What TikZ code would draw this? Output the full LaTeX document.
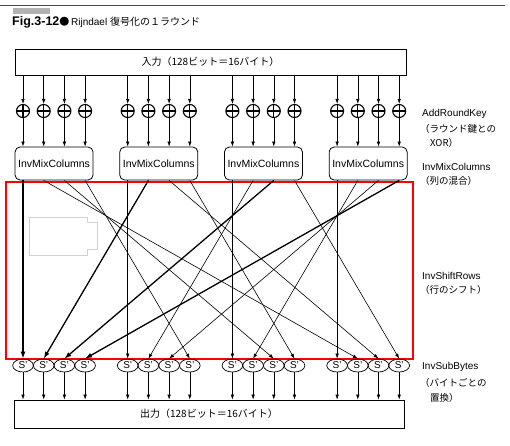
\documentclass[tikz,border=0pt]{standalone}
\usepackage{fontspec}
\setmainfont{Liberation Sans}
\newfontfamily\jp{Noto Sans CJK JP}
\usetikzlibrary{arrows.meta,shapes.geometric}
\begin{document}
\begin{tikzpicture}[x=1pt,y=-1pt,
  framebox/.style={draw,line width=0.8pt,inner sep=0pt},
  xorn/.style={circle,draw,line width=1.1pt,minimum size=13pt,inner sep=0pt,
    path picture={\draw[line width=1.1pt] (path picture bounding box.north) -- (path picture bounding box.south)
      (path picture bounding box.west) -- (path picture bounding box.east);}},
  mixbox/.style={draw,rounded corners=5pt,line width=0.8pt,minimum width=78pt,minimum height=33pt,inner sep=0pt,
    font=\fontsize{10.5}{12}\selectfont},
  sbox/.style={ellipse,draw,line width=0.7pt,minimum width=20.7pt,minimum height=13pt,inner sep=0pt,
    font=\fontsize{10}{11}\selectfont},
  arr/.style={-{Latex[length=5pt,width=3.5pt]},line width=0.6pt},
  wire/.style={-{Latex[length=5pt,width=3.5pt]},line width=0.6pt},
  boldwire/.style={-{Latex[length=7pt,width=5pt]},line width=1.3pt},
  lab/.style={anchor=west,inner sep=0pt,font=\fontsize{10}{12}\selectfont},
  jlab/.style={anchor=west,inner sep=0pt,font=\jp\fontsize{9.5}{11}\selectfont}
]
\useasboundingbox (0,0) rectangle (510,445);

% header
\draw[line width=0.8pt,gray!60!black] (0,5.5) -- (505,5.5);
\fill[gray!60] (13,8) rectangle (50,14);
\node[anchor=west,inner sep=0pt] (title) at (12,22.5)
  {\fontsize{12.5}{14}\selectfont\bfseries Fig.3-12\fontsize{10}{12}\selectfont\mdseries\jp ●\,\rmfamily Rijndael \jp 復号化の１ラウンド};

% faint scan artefact
\draw[gray!35,line width=0.5pt] (29,217) -- (87,217) -- (87,222) -- (97,222) -- (97,249) -- (87,249) -- (87,255) -- (29,255) -- cycle;

% input / output boxes
\node[framebox,minimum width=391pt,minimum height=26pt,font=\jp\fontsize{10}{12}\selectfont] (in) at (210.5,62) {入力（128ビット＝16バイト）};
\node[framebox,minimum width=390pt,minimum height=28pt,font=\jp\fontsize{10}{12}\selectfont] (out) at (209,414) {出力（128ビット＝16バイト）};

% red frame
\draw[red,line width=2pt] (6,182) rectangle (413,359);

\foreach \g in {0,...,3}{
  \node[mixbox] (m\g) at ({23+104.7*\g+31.05},163.5) {InvMixColumns};
  \foreach \r in {0,...,3}{
    \pgfmathsetmacro\cx{23+104.7*\g+20.7*\r}
    \node[xorn] (x\g\r) at (\cx,111) {};
    \node[sbox] (s\g\r) at (\cx,365.5) {S’};
    \coordinate (t\g\r) at (x\g\r |- m\g.south);
    \draw[arr] (x\g\r |- in.south) -- (x\g\r.north);
    \draw[arr] (x\g\r.south) -- (x\g\r |- m\g.north);
    \draw[arr] (s\g\r.south) -- (s\g\r |- out.north);
  }
}

% InvShiftRows wiring
\foreach \g in {0,...,3}{
  \foreach \r in {0,...,3}{
    \pgfmathtruncatemacro\tg{mod(\g-\r+4,4)}
    \ifnum\tg=0
      \draw[boldwire] (t\g\r) -- (s\tg\r.north);
    \else
      \draw[wire] (t\g\r) -- (s\tg\r.north);
    \fi
  }
}

% right labels
\node[lab] (l1) at (422,114) {AddRoundKey};
\node[jlab] (l1b) at (420,129) {（ラウンド鍵との};
\node[jlab] (l1c) at (430,143) {XOR）};
\node[lab] (l2) at (422,167) {InvMixColumns};
\node[jlab] (l2b) at (420,181) {（列の混合）};
\node[lab] (l3) at (422,276) {InvShiftRows};
\node[jlab] (l3b) at (420,290) {（行のシフト）};
\node[lab] (l4) at (422,367) {InvSubBytes};
\node[jlab] (l4b) at (420,383) {（バイトごとの};
\node[jlab] (l4c) at (430,398) {置換）};
\end{tikzpicture}
\end{document}
